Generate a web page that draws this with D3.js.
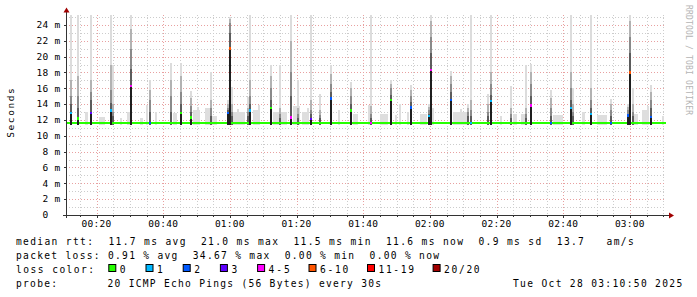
<!DOCTYPE html>
<html><head><meta charset="utf-8">
<script src="https://cdn.jsdelivr.net/npm/d3@7"></script>
<style>
html,body{margin:0;padding:0;background:#fff;}
svg{display:block;}
text{font-family:"DejaVu Sans Mono",monospace;white-space:pre;}
</style></head><body>
<svg id="c" width="697" height="297"></svg>
<script>
// ---------------- data ----------------
const timeStart = "00:10:50", timeEnd = "03:10:50";
const sampleSeconds = 36;
const xTickLabels = ["00:20","00:40","01:00","01:20","01:40","02:00","02:20","02:40","03:00"];
const yTickValues = [0,2,4,6,8,10,12,14,16,18,20,22,24];
const yTickLabels = ["0","2 m","4 m","6 m","8 m","10 m","12 m","14 m","16 m","18 m","20 m","22 m","24 m"];
const yMax = 25.26;          // ms at top of plot
const pingLow = 11.35;       // lowest ping, bottom of the smoke
const baselineMedian = 11.6; // median rtt between spikes (ms)

const lossLabels = ["0","1","2","3","4-5","6-10","11-19","20/20"];
const lossColors = ["#26ff00","#00b8ff","#0059ff","#5e00ff","#ff00ff","#ff5500","#ff0000","#a10000"];

// spikes: time, median (ms), loss class index, smoke band tops (inner -> outer, ms)
const spikeTimes = ["00:12:02","00:14:08","00:17:53","00:23:53","00:24:43","00:29:53","00:35:44","00:41:53","00:44:53","00:47:53",
  "00:54:02","00:59:13","00:59:49","01:00:25","01:04:59","01:05:44","01:11:53","01:14:35","01:18:02","01:20:08",
  "01:23:53","01:26:35","01:29:53","01:35:53","01:41:53","01:47:53","01:53:53","01:59:17","01:59:53","02:05:53",
  "02:11:08","02:11:53","02:17:08","02:17:53","02:23:53","02:28:32","02:29:53","02:35:53","02:41:53","02:42:43",
  "02:47:53","02:53:53","02:59:13","02:59:49","03:00:29","03:05:53"];
const spikeMedian = [12.9,12.2,12.9,13.2,11.6,16.3,11.6,11.6,12.9,12.3,
  11.6,12.9,21.0,11.6,11.6,13.2,13.5,11.6,12.3,11.6,
  12.1,11.6,14.7,13.2,11.6,14.5,13.55,12.5,18.3,14.5,
  11.6,11.6,11.6,14.4,11.6,11.6,13.8,11.6,13.5,11.6,
  12.75,11.6,12.6,18.0,11.6,12.4];
const spikeLoss = [1,0,3,1,0,4,2,0,0,0,
  0,2,5,0,0,1,0,0,4,0,
  3,0,2,0,4,0,2,1,4,2,
  0,1,0,1,0,0,4,2,1,0,
  1,2,2,5,0,2];
const spikeSmoke = [
  [14.0,15.0,17.0,25.3],[13.5,15.0,17.5,25.3],[14.5,15.5,17.0,25.3],[14.2,15.8,19.0,25.3],[12.5,13.0,14.0,19.0],
  [18.5,21.0,23.5,25.3],[13.0,14.5,15.8,17.1],[13.0,15.0,17.0,19.2],[14.0,15.5,17.5,19.2],[13.0,13.8,14.8,15.6],
  [12.5,13.5,14.5,18.1],[13.2,13.5,14.0,14.5],[23.0,24.2,24.8,25.0],[12.5,13.0,14.0,16.2],[12.5,13.0,13.5,14.9],
  [14.0,15.0,17.0,25.3],[14.5,16.0,17.5,18.9],[12.3,12.8,13.5,18.9],[15.0,18.0,22.0,25.3],[12.3,12.8,13.5,17.1],
  [12.8,13.3,14.5,25.3],[12.2,12.6,13.2,15.3],[15.5,16.5,17.8,18.9],[14.0,15.0,16.0,16.8],[12.2,12.8,13.8,25.3],
  [15.2,16.0,16.6,17.1],[14.3,15.0,15.8,16.4],[12.8,13.2,13.6,14.0],[20.5,22.5,24.5,25.3],[15.5,16.5,17.5,18.2],
  [12.5,13.0,13.5,14.0],[12.5,13.2,14.5,25.3],[12.5,13.0,14.0,15.3],[15.2,16.5,18.0,25.3],[12.3,12.8,13.5,16.3],
  [12.3,12.8,13.5,18.9],[15.0,16.5,18.0,19.1],[12.5,13.5,14.8,15.8],[14.5,16.0,18.0,25.3],[12.5,13.0,14.0,16.0],
  [13.5,14.5,16.0,25.3],[12.5,13.2,14.0,14.7],[12.8,13.2,13.6,14.0],[20.5,22.5,24.5,25.3],[12.5,13.0,14.0,16.0],
  [13.5,14.5,15.5,16.4]];

// low background smoke: start time, duration (s), top (ms)
const noiseTimes = ["00:16:32","00:20:44","00:27:02","00:29:08","00:33:02","00:34:50","00:37:32","00:42:56","00:48:56","00:49:59",
  "00:52:32","00:54:38","01:00:56","01:01:59","01:06:56","01:08:26","01:12:56","01:18:56","01:21:38","01:23:03",
  "01:32:26","01:36:56","01:41:26","01:45:02","01:49:32","01:50:44","01:53:08","01:57:02","02:00:38","02:06:56",
  "02:09:02","02:21:02","02:24:56","02:27:20","02:36:56","02:45:38","02:50:08","03:01:14","03:03:38","03:04:59","03:09:38"];
const noiseDur = [54,108,36,54,54,36,36,72,126,36, 90,90,216,36,126,36,252,126,126,36,
  36,90,27,144,36,36,36,126,36,252, 36,36,72,108,180,54,180,72,108,36,36];
const noiseTop = [13.05,12.35,12.3,13.0,12.2,13.9,13.0,12.85,13.2,13.7, 13.5,12.5,13.05,13.4,13.2,13.9,13.0,13.8,13.05,13.5,
  13.2,12.7,13.9,12.7,12.6,14.0,13.05,12.7,13.5,13.05, 13.4,12.5,12.7,12.7,12.6,13.05,12.6,12.7,13.2,13.8,12.5];

const legendRtt = "median rtt:  11.7 ms avg  21.0 ms max  11.5 ms min  11.6 ms now  0.9 ms sd  13.7   am/s";
const legendLoss = "packet loss: 0.91 % avg  34.67 % max  0.00 % min  0.00 % now";
const legendLossTitle = "loss color:";
const legendProbe = "probe:       20 ICMP Echo Pings (56 Bytes) every 30s";
const legendDate = "Tue Oct 28 03:10:50 2025";
const yTitle = "Seconds";
const watermark = "RRDTOOL / TOBI OETIKER";

// ---------------- drawing ----------------
const svg = d3.select("#c");
const W = 697, H = 297;
const L = 66, R = 666, T = 15, B = 215;
const PITCH = 7.1;
const parse = s => { const [h,m,sec] = s.split(":").map(Number); return new Date(Date.UTC(2025,9,28,h,m,sec||0)); };
const t0 = parse(timeStart), t1 = parse(timeEnd);
const x = d3.scaleUtc().domain([t0,t1]).range([L,R]);
const y = d3.scaleLinear().domain([0,yMax]).range([B,T]);
const shades = ["#5c5c5c","#8a8a8a","#b2b2b2","#dcdcdc"]; // inner -> outer

svg.append("rect").attr("width",W).attr("height",H).attr("fill","#ffffff");

// grid
const g = svg.append("g").attr("shape-rendering","crispEdges");
const minor5 = d3.utcMinute.every(5).range(t0,t1);
minor5.forEach(d => {
  const major = d.getUTCMinutes() % 20 === 0;
  g.append("line").attr("x1",Math.round(x(d))+0.5).attr("x2",Math.round(x(d))+0.5).attr("y1",T).attr("y2",B)
    .attr("stroke", major ? "#e8a0a0" : "#cccccc").attr("stroke-dasharray","1,2");
});
d3.range(1,26).forEach(v => {
  if (y(v) < T) return;
  const major = v % 2 === 0;
  g.append("line").attr("x1",L).attr("x2",R).attr("y1",Math.round(y(v))+0.5).attr("y2",Math.round(y(v))+0.5)
    .attr("stroke", major ? "#e8a0a0" : "#cccccc").attr("stroke-dasharray","1,2");
});

const plot = svg.append("g").attr("shape-rendering","crispEdges");
// background smoke
noiseTimes.forEach((t,i) => {
  const a = parse(t), b = new Date(+a + noiseDur[i]*1000);
  plot.append("rect").attr("x",x(a)).attr("width",Math.max(1,x(b)-x(a)))
    .attr("y",y(noiseTop[i])).attr("height",y(pingLow)-y(noiseTop[i])).attr("fill","#dedede");
});
// spikes smoke
const spikes = spikeTimes.map((t,i) => ({a:parse(t), med:spikeMedian[i], loss:spikeLoss[i], smoke:spikeSmoke[i]}));
spikes.forEach(s => {
  const b = new Date(+s.a + sampleSeconds*1000);
  for (let k = 3; k >= 0; k--) {
    plot.append("rect").attr("x",x(s.a)).attr("width",x(b)-x(s.a))
      .attr("y",y(s.smoke[k])).attr("height",y(pingLow)-y(s.smoke[k])).attr("fill",shades[k]);
  }
});
// median baseline
const sw = 0.16;
plot.append("rect").attr("x",L+1).attr("width",R-L-1).attr("y",y(baselineMedian+sw))
  .attr("height",y(baselineMedian-sw)-y(baselineMedian+sw)).attr("fill",lossColors[0]);
// spike black bars and median marks
spikes.forEach(s => {
  const b = new Date(+s.a + sampleSeconds*1000);
  if (s.med > baselineMedian + 0.2) {
    plot.append("rect").attr("x",x(s.a)).attr("width",x(b)-x(s.a))
      .attr("y",y(s.med)).attr("height",y(pingLow)-y(s.med)).attr("fill","#1e1e1e");
  }
  if (s.med > baselineMedian + 0.2 || s.loss > 0) {
    plot.append("rect").attr("x",x(s.a)).attr("width",x(b)-x(s.a))
      .attr("y",y(s.med+sw)).attr("height",y(s.med-sw)-y(s.med+sw)).attr("fill",lossColors[s.loss]);
  }
});

// axes
const ax = svg.append("g").attr("shape-rendering","crispEdges");
ax.append("line").attr("x1",L+0.5).attr("x2",L+0.5).attr("y1",B+3).attr("y2",9).attr("stroke","#333");
ax.append("line").attr("x1",L-3).attr("x2",R+5).attr("y1",B+0.5).attr("y2",B+0.5).attr("stroke","#333");
svg.append("path").attr("d",`M${L-2.5},12.5 L${L+3.5},12.5 L${L+0.5},7.5 Z`).attr("fill","#a00000");
svg.append("path").attr("d",`M${R+3},${B-2.5} L${R+3},${B+3.5} L${R+8},${B+0.5} Z`).attr("fill","#a00000");
minor5.forEach(d => {
  const major = d.getUTCMinutes() % 20 === 0;
  ax.append("line").attr("x1",Math.round(x(d))+0.5).attr("x2",Math.round(x(d))+0.5).attr("y1",B).attr("y2",B+(major?3:2)).attr("stroke","#333");
});
yTickValues.forEach(v => {
  ax.append("line").attr("x1",L-2).attr("x2",L).attr("y1",Math.round(y(v))+0.5).attr("y2",Math.round(y(v))+0.5).attr("stroke","#333");
});

// tick labels
const tl = svg.append("g").attr("font-size","9.5px").attr("fill","#000").attr("letter-spacing","0.28px");
yTickLabels.forEach((lab,i) => {
  tl.append("text").attr("x", lab === "0" ? 48.5 : 60.5).attr("y",y(yTickValues[i])+3.3)
    .attr("text-anchor","end").text(lab);
});
xTickLabels.forEach(lab => {
  const d = parse(lab + ":00");
  tl.append("text").attr("x",x(d)).attr("y",B+12).attr("text-anchor","middle").text(lab);
});

// titles
svg.append("text").attr("transform","translate(14,113) rotate(-90)").attr("text-anchor","middle")
  .attr("font-size","9.5px").attr("textLength",yTitle.length*PITCH).attr("lengthAdjust","spacing").text(yTitle);
svg.append("text").attr("transform","translate(686,60) rotate(90)").attr("text-anchor","middle")
  .attr("font-size","8px").attr("fill","#b4b4b4").attr("textLength",watermark.length*5).attr("lengthAdjust","spacing").text(watermark);

// legend
const lg = svg.append("g").attr("font-size","9.6px").attr("fill","#000");
const line = (txt, xx, yy, pitch) => lg.append("text").attr("x",xx).attr("y",yy)
  .attr("textLength",txt.length*pitch).attr("lengthAdjust","spacing").text(txt);
line(legendRtt, 16, 244.5, 7.1);
line(legendLoss, 16, 258.8, 7.05);
line(legendLossTitle, 16, 273, 7.1);
let cx = 108.3;
lossLabels.forEach((lab,i) => {
  lg.append("rect").attr("x",cx+0.5).attr("y",264.5).attr("width",7).attr("height",7)
    .attr("fill",lossColors[i]).attr("stroke","#000").attr("stroke-width",1);
  line(lab, cx+11.5, 273, 7.1);
  cx += 11.5 + lab.length*7.1 + 18.6;
});
line(legendProbe, 16, 287, 7.02);
lg.append("text").attr("x",513).attr("y",287).attr("textLength",legendDate.length*7.05).attr("lengthAdjust","spacing").text(legendDate);
</script>
</body></html>
